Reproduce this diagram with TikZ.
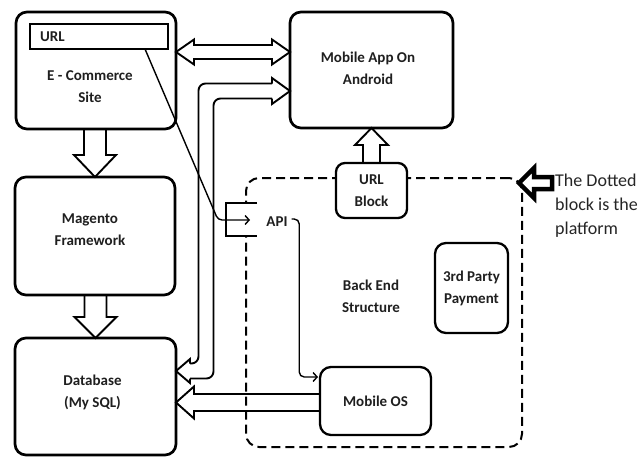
\documentclass[tikz,border=0pt]{standalone}
\usepackage{fontspec}
\setmainfont{Carlito}
\usetikzlibrary{arrows.meta,calc}
\newcommand\boxfont{\fontsize{15}{22}\selectfont\bfseries}
\begin{document}
\begin{tikzpicture}[x=1pt,y=-1pt,
  box/.style={draw, line width=2.7pt, rounded corners=11pt, fill=white, outer sep=0pt, inner sep=0pt, align=center, font=\boxfont, text=black!88},
  txt/.style={font=\boxfont, align=center, inner sep=0pt, text=black!88},
  platform/.style={draw, line width=2pt, dash pattern=on 9pt off 5pt, rounded corners=13pt, inner sep=0pt, outer sep=0pt},
  fat/.style={draw, line width=1.9pt, line join=miter},
  conn/.style={line width=1.4pt},
  barb/.style={-{Straight Barb[length=4pt,width=9pt,line width=1.4pt]}}]
\useasboundingbox (0,0) rectangle (638,463);
\fill[white] (0,0) rectangle (638,463);

% platform (dotted block)
\node[platform, minimum width=276pt, minimum height=269pt] (plat) at (384,312.5) {};

% boxes
\node[box, minimum width=160pt, minimum height=117pt] (ecom) at (96,70.5) {};
\node[draw, line width=2.2pt, minimum width=138pt, minimum height=25pt, inner sep=0pt, outer sep=0pt] (url) at (99,36.5) {};
\node[txt, anchor=west] (urltxt) at ($(url.west)+(10,0)$) {URL};
\node[txt] (ecomtxt) at (90,87) {E - Commerce\\Site};
\node[box, minimum width=163pt, minimum height=116pt] (app) at (371.5,70) {};
\node[txt] (apptxt) at (368,68.5) {Mobile App On\\Android};
\node[box, minimum width=160pt, minimum height=118pt] (mag) at (95,236) {};
\node[txt] (magtxt) at (90,229.5) {Magento\\Framework};
\node[box, minimum width=161pt, minimum height=117pt] (db) at (95.5,396.5) {};
\node[txt] (dbtxt) at (92.5,392.5) {Database\\(My SQL)};
\node[box, rounded corners=9pt, line width=2.3pt, minimum width=71pt, minimum height=55pt] (ublk) at (371.5,190.5) {URL\\Block};
\node[box, line width=2.3pt, minimum width=73pt, minimum height=90pt] (pay) at (471.5,288) {3rd Party\\Payment};
\node[box, line width=2.3pt, minimum width=111pt, minimum height=68pt] (mos) at (375.5,401) {Mobile OS};
\node[txt] (back) at (371,296.5) {Back End\\Structure};
\node[txt] (api) at (277,222) {API};

% API bracket on the platform border
\coordinate (apiin) at (250,220);
\coordinate (apibend) at (218,220);
\fill[white] (225,203) rectangle (258,236);
\draw[line width=2pt] (257,203) -- (226,203) -- (226,236) -- (257,236);

% thin connectors
\draw[conn, barb, rounded corners=4pt] ($(url.south west)+(115,0)$) -- (apibend) -- (apiin);
\draw[conn, barb, rounded corners=5pt, shorten >=2pt] ($(api.east)+(4,-3)$) -- ++(7.5,0) |- ($(mos.west)+(0,-24)$);

% fat arrows
\draw[fat] let \p1=(ecom.south), \p2=(mag.north) in
  (\x2-11pt,\y1) -- (\x2-11pt,\y2+22pt) -- (\x2-21pt,\y2+22pt) -- (\p2) -- (\x2+21pt,\y2+22pt) -- (\x2+11pt,\y2+22pt) -- (\x2+11pt,\y1);
\draw[fat] let \p1=(mag.south), \p2=(db.north) in
  (\x2-11pt,\y1) -- (\x2-11pt,\y2+21pt) -- (\x2-21pt,\y2+21pt) -- (\p2) -- (\x2+21pt,\y2+21pt) -- (\x2+11pt,\y2+21pt) -- (\x2+11pt,\y1);
\draw[fat] let \p1=(ublk.north), \p2=(app.south) in
  (\x2-8.5pt,\y1) -- (\x2-8.5pt,\y2-17pt) -- (\x2-16.5pt,\y2-17pt) -- (\p2) -- (\x2+16.5pt,\y2-17pt) -- (\x2+8.5pt,\y2-17pt) -- (\x2+8.5pt,\y1);
\draw[fat] let \p1=($(ecom.east)+(0,-18.5)$), \p2=($(app.west)+(0,-18)$) in
  (\p1) -- (\x1+18pt,\y1+12.5pt) -- (\x1+18pt,\y1+7pt) -- (\x2-18pt,\y1+7pt) -- (\x2-18pt,\y1+12.5pt) -- (\x2,\y1)
  -- (\x2-18pt,\y1-12.5pt) -- (\x2-18pt,\y1-7pt) -- (\x1+18pt,\y1-7pt) -- (\x1+18pt,\y1-12.5pt) -- cycle;
\draw[fat] let \p1=($(db.east)+(0,6)$), \p2=(mos.west) in
  (\x2,\y1+8.5pt) -- (\x1+18pt,\y1+8.5pt) -- (\x1+18pt,\y1+16pt) -- (\p1) -- (\x1+18pt,\y1-16pt) -- (\x1+18pt,\y1-8.5pt) -- (\x2,\y1-8.5pt);

% bent fat double arrow database <-> mobile app
\coordinate (bentA) at ($(db.east)+(0,-25.5)$);
\coordinate (bentB) at ($(app.west)+(0,21)$);
\draw[fat, rounded corners=7pt] let \p1=(bentA), \p2=(bentB) in
  (\x1+14pt,\y1+7.5pt) -- (\x1+22.5pt,\y1+7.5pt) -- (\x1+22.5pt,\y2+7.5pt) -- (\x2-18pt,\y2+7.5pt)
  (\x1+14pt,\y1-7.5pt) -- (\x1+37.5pt,\y1-7.5pt) -- (\x1+37.5pt,\y2-7.5pt) -- (\x2-18pt,\y2-7.5pt);
\draw[fat] let \p1=(bentA), \p2=(bentB) in
  (\x1+14pt,\y1+7.5pt) -- (\x1+14pt,\y1+12pt) -- (\p1) -- (\x1+14pt,\y1-12pt) -- (\x1+14pt,\y1-7.5pt)
  (\x2-18pt,\y2+7.5pt) -- (\x2-18pt,\y2+13pt) -- (\p2) -- (\x2-18pt,\y2-13pt) -- (\x2-18pt,\y2-7.5pt);

% annotation
\node[anchor=north west, font=\fontsize{18}{24}\selectfont, align=left, inner sep=0pt, text=black!85] (note) at (555,174) {The Dotted\\block is the\\platform};
\draw[line width=4.5pt, line join=miter] let \p1=($(plat.north east)+(-3,5)$) in
  (\p1) -- (\x1+15pt,\y1+15pt) -- (\x1+15pt,\y1+6pt) -- (\x1+33pt,\y1+6pt) -- (\x1+33pt,\y1-6pt) -- (\x1+15pt,\y1-6pt) -- (\x1+15pt,\y1-15pt) -- cycle;
\end{tikzpicture}
\end{document}
